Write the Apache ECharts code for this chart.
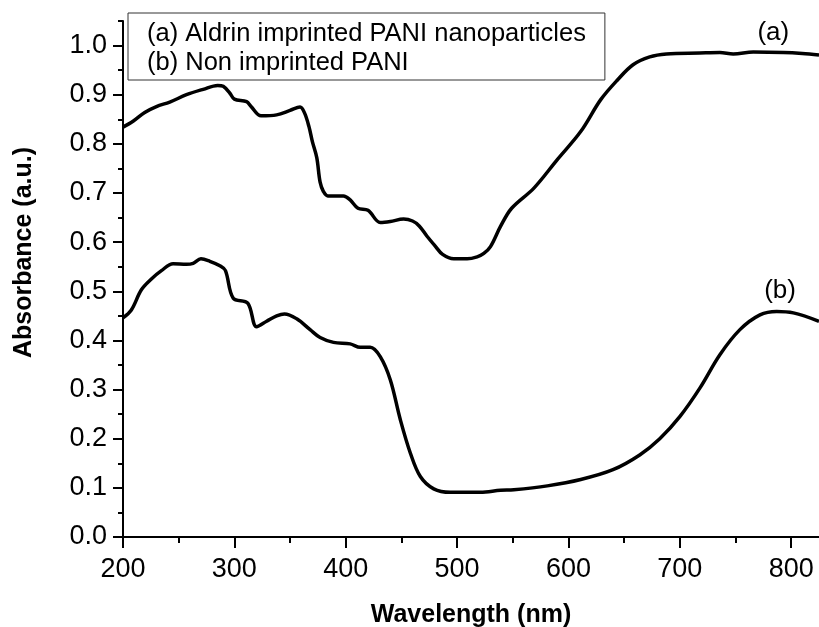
<!DOCTYPE html>
<html>
<head>
<meta charset="utf-8">
<script src="https://cdn.jsdelivr.net/npm/echarts@6/dist/echarts.min.js"></script>
<style>
html,body{margin:0;padding:0;background:#fff;}
#chart{width:819px;height:627px;}
</style>
</head>
<body>
<div id="chart"></div>
<script>
// ---- data ----
var nameA = '(a) Aldrin imprinted PANI nanoparticles';
var nameB = '(b) Non imprinted PANI';

var wlA = [200,209,219.5,230,242,257,272,285,290,296,300,311,315,324,338,350,359,363,367,370,374,377,380,384,398,404,411,420,431,440,452,460,466,473,480,487,497,509,518,524,530,539,549,569,590,611,629,644,658,673,688,718,736,748,766,793,810,825];
var absA = [0.834,0.846,0.864,0.876,0.885,0.900,0.911,0.919,0.917,0.903,0.891,0.886,0.876,0.857,0.859,0.868,0.875,0.863,0.835,0.805,0.772,0.722,0.703,0.694,0.694,0.686,0.669,0.665,0.640,0.642,0.647,0.643,0.633,0.612,0.593,0.575,0.566,0.566,0.570,0.577,0.591,0.632,0.669,0.710,0.768,0.825,0.890,0.930,0.961,0.977,0.983,0.985,0.986,0.983,0.987,0.986,0.984,0.981];

var wlB = [200,207.5,216.5,225.5,234.5,245,257,263,270,278,287,292,299,312,320,329,338,345,356,368,377,389,404,413,422,431,440,449,458,467,479,494,509,521,539,551,581,611,640,664,682,700,718,736,754,772,787,802,825];
var absB = [0.446,0.462,0.503,0.525,0.542,0.556,0.555,0.557,0.566,0.561,0.552,0.542,0.486,0.476,0.428,0.439,0.450,0.454,0.444,0.422,0.406,0.396,0.393,0.386,0.386,0.367,0.320,0.239,0.171,0.123,0.098,0.091,0.091,0.091,0.095,0.096,0.104,0.117,0.137,0.167,0.200,0.245,0.303,0.371,0.422,0.452,0.459,0.456,0.439];

var xMajorTicks = [200,300,400,500,600,700,800];
var xMinorTicks = [250,350,450,550,650,750];
var yMajorTicks = [0,0.1,0.2,0.3,0.4,0.5,0.6,0.7,0.8,0.9,1.0];
var yMinorTicks = [0.05,0.15,0.25,0.35,0.45,0.55,0.65,0.75,0.85,0.95,1.05];

var labelA = {text:'(a)', wl:784, abs:1.025};
var labelB = {text:'(b)', wl:790, abs:0.50};

// ---- chart ----
function pairs(xs, ys){ return xs.map(function(x,i){ return [x, ys[i]]; }); }
var FONT = '"Liberation Sans", Arial, sans-serif';
var chart = echarts.init(document.getElementById('chart'), null, {renderer:'canvas'});
var axisLineStyle = {color:'#000', width:2};

chart.setOption({
  animation:false,
  backgroundColor:'#fff',
  textStyle:{fontFamily:FONT, color:'#000'},
  grid:{left:123, top:21, width:696, height:516, containLabel:false, outerBoundsMode:'none'},
  legend:{
    data:[nameA, nameB],
    orient:'vertical', left:128, top:13,
    icon:'none', itemWidth:0, itemHeight:14, itemGap:3,
    padding:[8,19,4,14],
    borderColor:'#333', borderWidth:1, backgroundColor:'#fff',
    selectedMode:false,
    textStyle:{fontFamily:FONT, fontSize:25.5, color:'#000', lineHeight:26}
  },
  xAxis:[{
    type:'value', min:200, max:825, interval:100,
    name:'Wavelength (nm)', nameLocation:'middle', nameGap:66,
    nameTextStyle:{fontFamily:FONT, fontSize:25, fontWeight:'bold', color:'#000'},
    axisLine:{show:true, onZero:false, lineStyle:axisLineStyle},
    axisTick:{show:true, inside:false, length:11, lineStyle:{color:'#000', width:2}, customValues:xMajorTicks},
    axisLabel:{show:true, margin:19, fontSize:27, color:'#000', fontFamily:FONT, customValues:xMajorTicks},
    splitLine:{show:false}
  },{
    type:'value', min:200, max:825, interval:50, position:'bottom', offset:0,
    axisLine:{show:false},
    axisTick:{show:true, inside:false, length:6, lineStyle:{color:'#000', width:2}, customValues:xMinorTicks},
    axisLabel:{show:false},
    splitLine:{show:false}
  }],
  yAxis:[{
    type:'value', min:0, max:1.05, interval:0.1, position:'left',
    name:'Absorbance (a.u.)', nameLocation:'middle', nameGap:86, nameRotate:90,
    nameTextStyle:{fontFamily:FONT, fontSize:25, fontWeight:'bold', color:'#000', padding:[0,0,0,53]},
    axisLine:{show:true, onZero:false, lineStyle:axisLineStyle},
    axisTick:{show:true, inside:false, length:10, lineStyle:{color:'#000', width:2}, customValues:yMajorTicks},
    axisLabel:{show:true, margin:16, fontSize:27, color:'#000', fontFamily:FONT, customValues:yMajorTicks,
      formatter:function(v){ return v.toFixed(1); }},
    splitLine:{show:false}
  },{
    type:'value', min:0, max:1.05, interval:0.05, position:'left', offset:0,
    axisLine:{show:false},
    axisTick:{show:true, inside:false, length:5, lineStyle:{color:'#000', width:2}, customValues:yMinorTicks},
    axisLabel:{show:false},
    splitLine:{show:false}
  }],
  series:[{
    name:nameA, type:'line', xAxisIndex:0, yAxisIndex:0,
    data:pairs(wlA, absA), showSymbol:false, symbol:'none',
    smooth:0.35,
    lineStyle:{color:'#000', width:3.5}, itemStyle:{color:'#000'},
    markPoint:{symbol:'circle', symbolSize:0, silent:true,
      label:{show:true, position:'inside', formatter:labelA.text, fontSize:26, color:'#000', fontFamily:FONT},
      data:[{coord:[labelA.wl, labelA.abs]}]}
  },{
    name:nameB, type:'line', xAxisIndex:0, yAxisIndex:0,
    data:pairs(wlB, absB), showSymbol:false, symbol:'none',
    smooth:0.35,
    lineStyle:{color:'#000', width:3.5}, itemStyle:{color:'#000'},
    markPoint:{symbol:'circle', symbolSize:0, silent:true,
      label:{show:true, position:'inside', formatter:labelB.text, fontSize:26, color:'#000', fontFamily:FONT},
      data:[{coord:[labelB.wl, labelB.abs]}]}
  }]
});
</script>
</body>
</html>
